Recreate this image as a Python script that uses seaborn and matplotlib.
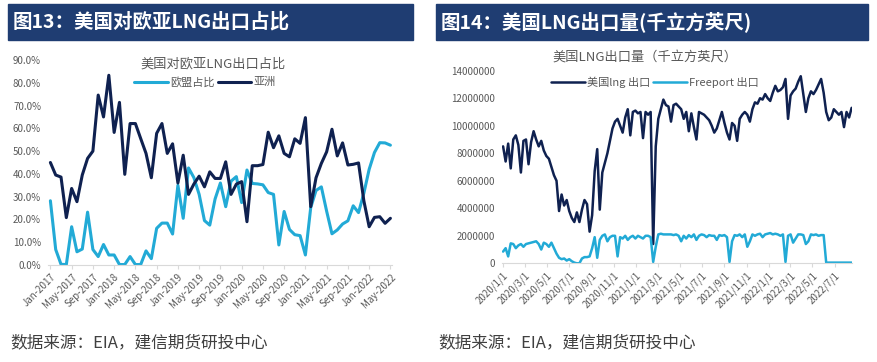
import numpy as np
import pandas as pd
import matplotlib.pyplot as plt
import seaborn as sns
from matplotlib.patches import Rectangle
from matplotlib.ticker import FuncFormatter

sns.set_style('white')
plt.rcParams['font.family'] = ['Noto Sans CJK SC', 'DejaVu Sans']
plt.rcParams['axes.unicode_minus'] = False

NAVY = '#0f2150'
CYAN = '#22aad6'
BAR = '#1f3d72'
GREY = '#595959'

# ---- 图13: monthly share of US LNG exports (%), Jan-2017 .. May-2022
months = pd.date_range('2017-01-01', '2022-05-01', freq='MS')
eu_share = [28.2, 6.8, 0.3, 0.2, 16.8, 5.8, 7.0, 23.2, 6.8, 3.7, 9.0, 4.4,      # 2017
            4.4, 0.2, 0.2, 3.7, 0.2, 0.2, 6.2, 2.8, 16.1, 18.4, 18.4, 13.6,    # 2018
            35.0, 20.5, 42.6, 38.4, 31.0, 19.5, 17.5, 29.0, 36.0, 25.6, 36.8, 38.8,  # 2019
            27.4, 41.7, 35.8, 35.6, 35.2, 31.8, 31.0, 8.8, 23.5, 15.6, 13.3, 12.9,   # 2020
            4.4, 25.2, 32.7, 34.3, 23.6, 13.7, 15.4, 18.0, 19.4, 26.0, 23.0, 31.5,   # 2021
            42.0, 49.4, 53.7, 53.6, 52.6]                                          # 2022
asia_share = [45.0, 39.5, 38.6, 20.8, 33.6, 27.8, 39.5, 46.8, 50.0, 74.6, 65.0, 83.3,
              58.2, 71.4, 39.8, 62.1, 62.1, 55.5, 49.0, 38.3, 57.8, 62.1, 49.0, 53.2,
              36.0, 48.2, 31.0, 35.5, 39.0, 34.3, 40.9, 38.0, 38.0, 45.3, 31.0, 35.5,
              36.6, 19.0, 43.6, 43.6, 44.1, 58.3, 51.5, 56.7, 49.0, 47.5, 55.4, 53.4,
              64.7, 25.6, 38.3, 44.6, 49.7, 59.6, 47.9, 53.6, 43.9, 44.2, 44.8, 28.2,
              16.8, 20.9, 21.2, 18.3, 20.5]
share_labels = [d.strftime('%b-%Y') for d in months[::4]]

# ---- 图14: weekly US LNG exports (million, 千立方英尺 = value*1e6)
weeks = pd.date_range('2020-01-01', '2022-08-17', freq='7D')
us_lng_mn = [
    8.5, 7.4, 8.7, 6.9, 9.0, 9.3, 8.6, 6.6, 8.9, 9.0, 7.2, 8.8, 9.6,          # 2020 Jan-Mar
    9.0, 8.5, 8.9, 8.2, 7.8, 7.6, 7.0, 6.4, 6.0, 3.8, 5.0, 4.2, 4.6,          # Apr-Jun
    3.8, 3.3, 3.0, 3.7, 3.0, 3.9, 4.6, 4.3, 2.3, 3.5, 6.7, 8.3, 3.9, 6.6,     # Jul-Sep
    7.3, 8.0, 8.9, 9.8, 10.3, 10.5, 10.0, 9.5, 10.6, 11.2, 9.3, 11.0, 11.1,   # Oct-Dec
    10.9, 11.0, 9.1, 11.0, 10.8, 11.0, 1.4, 8.5, 10.5, 11.2, 11.9, 11.5, 11.4,  # 2021 Jan-Mar
    10.3, 11.5, 11.6, 11.4, 11.2, 10.5, 11.0, 9.6, 10.9, 9.9, 9.0, 11.0, 10.9,  # Apr-Jun
    10.8, 10.6, 10.4, 10.0, 9.5, 9.8, 10.4, 11.0, 10.2, 9.5, 9.0, 10.2, 10.0,   # Jul-Sep
    8.9, 10.5, 10.8, 11.0, 10.8, 10.3, 11.2, 11.7, 11.6, 12.0, 11.9, 12.3, 12.0,  # Oct-Dec
    11.8, 12.4, 12.9, 12.5, 12.6, 12.8, 13.4, 10.5, 12.2, 12.5, 12.7, 13.2, 13.6,  # 2022 Jan-Mar
    12.3, 11.0, 12.0, 12.5, 12.3, 12.6, 13.0, 13.4, 12.4, 11.0, 10.4, 10.6, 11.2,  # Apr-Jun
    11.0, 10.8, 11.0, 9.9, 11.0, 10.6, 11.3]                                      # Jul-Aug
freeport_mn = [
    0.85, 1.1, 0.5, 1.45, 1.4, 1.1, 1.3, 1.4, 1.2, 1.4, 1.45, 1.5, 1.55,
    1.6, 1.4, 1.0, 1.5, 1.4, 1.2, 1.5, 1.1, 0.7, 0.4, 0.3, 0.35, 0.2,
    0.3, 0.15, 0.05, 0.0, 0.0, 0.35, 0.45, 0.45, 0.5, 1.1, 1.9, 0.4, 1.7, 2.0,
    2.1, 1.6, 1.9, 2.0, 2.0, 0.5, 1.9, 1.8, 2.0, 1.7, 1.9, 2.0, 1.8,
    2.0, 1.9, 1.8, 2.0, 2.0, 1.9, 0.1, 1.2, 2.1, 2.15, 2.1, 2.1, 2.1,
    2.1, 2.05, 2.1, 2.0, 1.6, 2.0, 1.8, 2.05, 1.9, 2.1, 1.7, 2.0, 2.1,
    2.05, 1.9, 2.05, 2.0, 2.0, 1.7, 2.05, 2.0, 2.05, 1.9, 0.1, 1.6, 2.05,
    2.0, 2.1, 1.9, 2.1, 1.2, 1.6, 2.1, 2.0, 2.1, 2.15, 1.9, 2.1, 2.15,
    2.2, 2.1, 2.15, 2.1, 2.0, 2.1, 0.1, 2.0, 2.1, 1.5, 1.8, 2.1, 2.1,
    2.05, 1.4, 1.6, 2.1, 2.05, 2.1, 2.0, 2.05, 2.05, 0.05, 0.05, 0.05, 0.05,
    0.05, 0.05, 0.05, 0.05, 0.05, 0.05, 0.05]
lng_ticks = pd.date_range('2020-01-01', '2022-07-01', freq='2MS')

share = pd.DataFrame({'m': np.arange(len(months)), 'eu': eu_share, 'asia': asia_share})
lng = pd.DataFrame({'date': weeks,
                    'us': np.array(us_lng_mn) * 1e6,
                    'fp': np.array(freeport_mn) * 1e6})

W, H = 878, 362
fig = plt.figure(figsize=(W / 100, H / 100), dpi=100)

def fx(px):
    return px / W

def fy(py):
    return 1 - py / H

# title bars + source notes
for x0, x1, txt in [(8, 413, '图13：美国对欧亚LNG出口占比'),
                    (436, 868, '图14：美国LNG出口量(千立方英尺)')]:
    fig.add_artist(Rectangle((fx(x0), fy(40)), fx(x1 - x0), 36 / H,
                             transform=fig.transFigure, color=BAR, zorder=0))
    fig.text(fx(x0 + 5), fy(22), txt, color='white', fontsize=14,
             fontweight='bold', va='center', ha='left')
    fig.text(fx(x0 + 2), fy(343), '数据来源：EIA，建信期货研投中心', color='#404040',
             fontsize=12, fontstyle='italic', va='center', ha='left')

# inner chart titles
fig.text(fx(213), fy(64), '美国对欧亚LNG出口占比', fontsize=9.5, color=GREY,
         ha='center', va='center')
fig.text(fx(645), fy(57), '美国LNG出口量（千立方英尺）', fontsize=9.5, color=GREY,
         ha='center', va='center')

# ---- left chart
ax1 = fig.add_axes([fx(48), fy(265), fx(392 - 48), (265 - 60) / H])
sns.lineplot(data=share, x='m', y='eu', ax=ax1, color=CYAN, lw=2.2, label='欧盟占比')
sns.lineplot(data=share, x='m', y='asia', ax=ax1, color=NAVY, lw=2.2, label='亚洲')
ax1.set_xlim(-0.45, 64.3)
ax1.set_ylim(0, 90)
ax1.set_yticks(np.arange(0, 91, 10))
ax1.yaxis.set_major_formatter(FuncFormatter(lambda v, p: f'{v:.1f}%'))
ax1.set_xticks(share['m'][::4])
ax1.set_xticklabels(share_labels, rotation=45, ha='right', rotation_mode='anchor')
ax1.legend(loc='center', bbox_to_anchor=(fx(205), fy(82)),
           bbox_transform=fig.transFigure, ncol=2, frameon=False,
           fontsize=8, handlelength=3, columnspacing=0.3, handletextpad=0.2,
           labelcolor=GREY)

# ---- right chart
ax2 = fig.add_axes([fx(502), fy(263.3), fx(852 - 502), (263.3 - 70.7) / H])
sns.lineplot(data=lng, x='date', y='us', ax=ax2, color=NAVY, lw=1.8, label='美国lng 出口')
sns.lineplot(data=lng, x='date', y='fp', ax=ax2, color=CYAN, lw=1.8, label='Freeport 出口')
ax2.set_xlim(pd.Timestamp('2019-12-29'), pd.Timestamp('2022-08-18'))
ax2.set_ylim(0, 14000000)
ax2.set_yticks(np.arange(0, 14000001, 2000000))
ax2.yaxis.set_major_formatter(FuncFormatter(lambda v, p: f'{int(v)}'))
ax2.set_xticks(lng_ticks)
ax2.set_xticklabels([f'{d.year}/{d.month}/{d.day}' for d in lng_ticks],
                    rotation=45, ha='right', rotation_mode='anchor')
ax2.legend(loc='center', bbox_to_anchor=(fx(655), fy(82)),
           bbox_transform=fig.transFigure, ncol=2, frameon=False,
           fontsize=8, handlelength=3, columnspacing=0.3, handletextpad=0.2,
           labelcolor=GREY)

for ax in (ax1, ax2):
    ax.set_xlabel('')
    ax.set_ylabel('')
    for s in ('top', 'right', 'left'):
        ax.spines[s].set_visible(False)
    ax.spines['bottom'].set_color('#d9d9d9')
    ax.tick_params(axis='x', length=3, color='#d9d9d9', labelsize=7,
                   labelcolor=GREY, pad=2, direction='out', bottom=True)
    ax.tick_params(axis='y', length=0, labelsize=7, labelcolor=GREY, pad=5)
    ax.patch.set_alpha(0)

fig.savefig('out.png', dpi=100)
